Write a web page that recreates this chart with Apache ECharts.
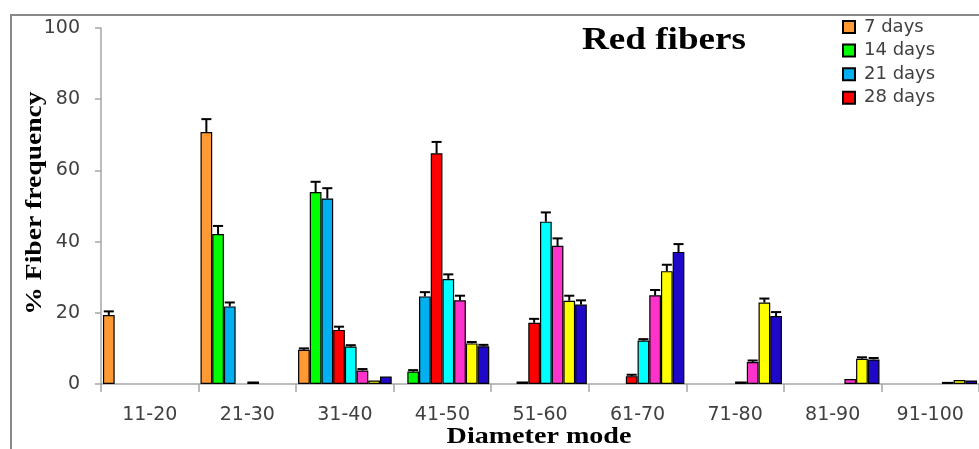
<!DOCTYPE html>
<html>
<head>
<meta charset="utf-8">
<script src="https://cdn.jsdelivr.net/npm/echarts@6/dist/echarts.min.js"></script>
<style>
html,body{margin:0;padding:0;background:#fff;}
#chart{width:979px;height:449px;}
</style>
</head>
<body>
<div id="chart"></div>
<script>
// ---- data ----
const categories = ['11-20', '21-30', '31-40', '41-50', '51-60', '61-70', '71-80', '81-90', '91-100'];
const seriesNames = ['7 days', '14 days', '21 days', '28 days', '35 days', '42 days', '49 days', '56 days'];
const legendNames = ['7 days', '14 days', '21 days', '28 days'];
const yTicks = [0, 20, 40, 60, 80, 100];

const days7  = [19.4, 70.8, 9.6, null, null, null, null, null, null];
const days14 = [null, 42.1, 53.9, 3.5, null, null, null, null, null];
const days21 = [null, 21.8, 52.1, 24.6, 0.7, null, null, null, null];
const days28 = [null, null, 15.2, 64.8, 17.2, 2.2, null, null, null];
const days35 = [null, 0.7, 10.5, 29.5, 45.6, 12.2, 0.7, null, null];
const days42 = [null, null, 3.8, 23.5, 38.8, 24.9, 6.2, 1.4, 0.6];
const days49 = [null, null, 1.0, 11.4, 23.4, 31.7, 22.9, 7.1, 1.1];
const days56 = [null, null, 2.1, 10.6, 22.3, 37.1, 19.1, 6.9, 1.0];

const err7  = [1.0, 3.6, 0.4, 0, 0, 0, 0, 0, 0];
const err14 = [0, 2.3, 2.9, 0.4, 0, 0, 0, 0, 0];
const err21 = [0, 1.1, 2.9, 1.2, 0, 0, 0, 0, 0];
const err28 = [0, 0, 0.9, 3.2, 1.1, 0.4, 0, 0, 0];
const err35 = [0, 0, 0.4, 1.3, 2.6, 0.4, 0, 0, 0];
const err42 = [0, 0, 0.4, 1.3, 2.1, 1.5, 0.4, 0, 0];
const err49 = [0, 0, 0, 0.4, 1.4, 1.8, 1.1, 0.4, 0];
const err56 = [0, 0, 0, 0.4, 1.2, 2.2, 1.1, 0.4, 0];

const values = [days7, days14, days21, days28, days35, days42, days49, days56];
const errors = [err7, err14, err21, err28, err35, err42, err49, err56];
const colors = ['#FF9933', '#00FF00', '#00B0F0', '#FF0000', '#00FFFF', '#FF33CC', '#FFFF00', '#2008C8'];

// ---- build ----
const N = seriesNames.length;
const GAP = 0.04;
const errData = [];
values.forEach((arr, i) => arr.forEach((v, j) => {
  if (v != null && errors[i][j] > 0) errData.push([j, i, v, errors[i][j]]);
}));

const barSeries = seriesNames.map((name, i) => ({
  name: name,
  type: 'bar',
  data: values[i],
  barGap: '0%',
  barCategoryGap: (GAP * 100) + '%',
  itemStyle: { color: colors[i], borderColor: '#000', borderWidth: 1.2 },
  emphasis: { disabled: true },
  animation: false
}));

const errSeries = {
  type: 'custom',
  name: 'error',
  z: 5,
  animation: false,
  encode: { x: 0, y: 2 },
  data: errData,
  renderItem: function (params, api) {
    const j = api.value(0), i = api.value(1), v = api.value(2), e = api.value(3);
    const band = api.size([1, 0])[0];
    const bw = band * (1 - GAP) / N;
    const off = -band * (1 - GAP) / 2 + bw * (i + 0.5);
    const base = api.coord([j, v]);
    const top = api.coord([j, v + e]);
    const x = base[0] + off;
    const st = { stroke: '#000', lineWidth: 2 };
    return {
      type: 'group',
      children: [
        { type: 'line', shape: { x1: x, y1: base[1], x2: x, y2: top[1] }, style: st },
        { type: 'line', shape: { x1: x - bw * 0.43, y1: top[1], x2: x + bw * 0.43, y2: top[1] }, style: st }
      ]
    };
  }
};

const chart = echarts.init(document.getElementById('chart'), null, { renderer: 'canvas' });
chart.setOption({
  backgroundColor: '#fff',
  animation: false,
  grid: { left: 101, top: 28, width: 891, bottom: 65, containLabel: false },
  legend: {
    data: legendNames,
    orient: 'vertical',
    left: 842,
    top: 18,
    padding: 0,
    itemWidth: 12,
    itemHeight: 12,
    itemGap: 5.6,
    icon: 'rect',
    textStyle: { fontFamily: 'DejaVu Sans', fontSize: 18, color: '#404040', lineHeight: 18, padding: [0, 0, 0, 4] }
  },
  xAxis: {
    type: 'category',
    data: categories,
    boundaryGap: true,
    axisLine: { lineStyle: { color: '#A6A6A6', width: 1.5 } },
    axisTick: { show: true, length: 8, interval: 0, lineStyle: { color: '#A6A6A6', width: 1.5 } },
    axisLabel: { interval: 0, margin: 22, fontFamily: 'DejaVu Sans', fontSize: 19, color: '#404040' },
    splitLine: { show: false }
  },
  yAxis: {
    type: 'value',
    min: yTicks[0],
    max: yTicks[yTicks.length - 1],
    interval: yTicks[1] - yTicks[0],
    axisLine: { show: true, lineStyle: { color: '#A6A6A6', width: 1.5 } },
    axisTick: { show: true, length: 6, lineStyle: { color: '#A6A6A6', width: 1.5 } },
    axisLabel: { margin: 21, fontFamily: 'DejaVu Sans', fontSize: 19, color: '#404040' },
    splitLine: { show: false }
  },
  graphic: [
    { type: 'rect', z: -1, silent: true, shape: { x: 11, y: 15, width: 1200, height: 800 },
      style: { fill: 'none', stroke: '#888', lineWidth: 2 } },
    { type: 'text', x: 664, y: 41, scaleX: 1.16, silent: true,
      style: { text: 'Red fibers', font: 'bold 32px "Liberation Serif", "Times New Roman", serif',
               fill: '#000', textAlign: 'center', textVerticalAlign: 'middle' } },
    { type: 'text', x: 539, y: 437, scaleX: 1.17, silent: true,
      style: { text: 'Diameter mode', font: 'bold 24px "Liberation Serif", "Times New Roman", serif',
               fill: '#000', textAlign: 'center', textVerticalAlign: 'middle' } },
    { type: 'text', x: 35, y: 203, rotation: Math.PI / 2, scaleX: 1.15, silent: true,
      style: { text: '% Fiber frequency', font: 'bold 24px "Liberation Serif", "Times New Roman", serif',
               fill: '#000', textAlign: 'center', textVerticalAlign: 'middle' } }
  ],
  series: barSeries.concat([errSeries])
});
</script>
</body>
</html>
